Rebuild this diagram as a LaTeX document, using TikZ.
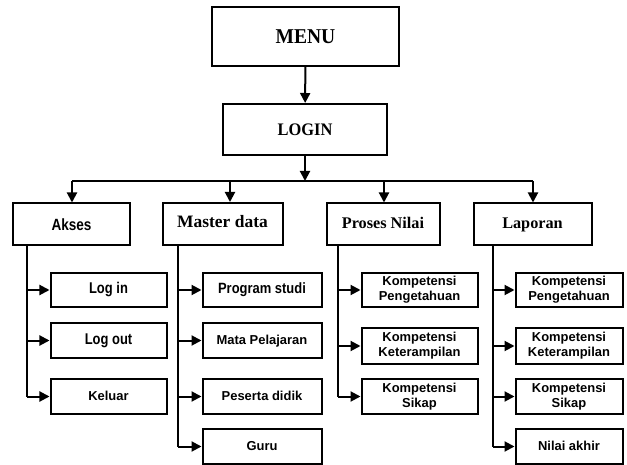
\documentclass[tikz,border=0pt]{standalone}
\usepackage{fontspec}
\usepackage{graphicx}
\setmainfont{Liberation Serif}
\setsansfont{Liberation Sans}
\usetikzlibrary{arrows.meta}

\tikzset{
  box/.style={draw, line width=2bp, inner sep=0pt, align=center},
  headbox/.style={box, text height=11bp, text depth=3.5bp,
                  font=\bfseries\fontsize{16.3}{18}\selectfont},
  itembox/.style={box, font=\sffamily\bfseries\fontsize{13}{15}\selectfont},
  oneline/.style={text height=10bp, text depth=3bp},
  link/.style={line width=2bp},
  arrow/.style={link, -{Triangle[length=10bp,width=10bp]}},
}

\begin{document}
\begin{tikzpicture}[x=1bp,y=-1bp]
\useasboundingbox (0,0) rectangle (627,465);

% top of the menu tree
\node[box, minimum width=187bp, minimum height=59bp,
      font=\bfseries\fontsize{19.6}{22}\selectfont] (menu) at (305.5,36.5)
      {\scalebox{1}[1.08]{MENU}};
\node[box, minimum width=164bp, minimum height=51bp,
      font=\bfseries\fontsize{16.5}{19}\selectfont] (login) at (305,129.5)
      {\scalebox{1}[1.07]{LOGIN}};

% main sections
\node[box, minimum width=116bp, minimum height=42bp,
      font=\sffamily\bfseries\fontsize{13.6}{16}\selectfont] (akses) at (71.5,224.5)
      {\scalebox{1}[1.2]{Akses}};
\node[headbox, minimum width=120bp, minimum height=42bp,
      font=\bfseries\fontsize{17.5}{20}\selectfont] (master) at (222.5,224)
      {Master data};
\node[headbox, minimum width=113bp, minimum height=42bp] (proses) at (383,224.5) {Proses Nilai};
\node[headbox, minimum width=118bp, minimum height=42bp] (laporan) at (532.5,224.5) {Laporan};

% Akses items
\node[itembox, minimum width=116bp, minimum height=34bp] (alogin) at (108.5,290)
      {\scalebox{1}[1.2]{Log in}};
\node[itembox, minimum width=116bp, minimum height=35bp] (alogout) at (108.5,340.5)
      {\scalebox{1}[1.2]{Log out}};
\node[itembox, oneline, minimum width=116bp, minimum height=35bp] (akeluar) at (108.5,396.5) {Keluar};

% Master data items
\node[itembox, minimum width=119bp, minimum height=34bp] (mprodi) at (262,290)
      {\scalebox{1}[1.15]{Program studi}};
\node[itembox, oneline, minimum width=119bp, minimum height=35bp] (mmapel) at (262,340.5) {Mata Pelajaran};
\node[itembox, oneline, minimum width=119bp, minimum height=35bp] (mpeserta) at (262,396.5) {Peserta didik};
\node[itembox, oneline, minimum width=119bp, minimum height=35bp] (mguru) at (262,446.5) {Guru};

% Proses Nilai items
\node[itembox, minimum width=116bp, minimum height=34bp] (pkp) at (419.5,290) {Kompetensi\\Pengetahuan};
\node[itembox, minimum width=116bp, minimum height=36bp] (pkk) at (419.5,346) {Kompetensi\\Keterampilan};
\node[itembox, minimum width=116bp, minimum height=35bp] (pks) at (419.5,396.5) {Kompetensi\\Sikap};

% Laporan items
\node[itembox, minimum width=107bp, minimum height=34bp] (lkp) at (569,290) {Kompetensi\\Pengetahuan};
\node[itembox, minimum width=107bp, minimum height=36bp] (lkk) at (569,346) {Kompetensi\\Keterampilan};
\node[itembox, minimum width=107bp, minimum height=35bp] (lks) at (569,396.5) {Kompetensi\\Sikap};
\node[itembox, oneline, minimum width=107bp, minimum height=35bp] (lna) at (569,446.5) {Nilai akhir};

% distribution bus and trunk lines
\coordinate (bus) at (305,181);
\coordinate (busA) at (72,181);
\coordinate (busM) at (230,181);
\coordinate (busP) at (384,181);
\coordinate (busL) at (533,181);
\coordinate (ta) at (27,0);
\coordinate (tm) at (178,0);
\coordinate (tp) at (338,0);
\coordinate (tl) at (493,0);

\draw[arrow] (menu) -- (login);
\draw[arrow] (login) -- (bus);
\draw[link] (busA) -- (busL);
\draw[arrow] (busA) -- (busA |- akses.north);
\draw[arrow] (busM) -- (busM |- master.north);
\draw[arrow] (busP) -- (busP |- proses.north);
\draw[arrow] (busL) -- (busL |- laporan.north);

\draw[link] (ta |- akses.south) -- (ta |- akeluar.west);
\foreach \n in {alogin,alogout,akeluar} \draw[arrow] (ta |- \n.west) -- (\n.west);

\draw[link] (tm |- master.south) -- (tm |- mguru.west);
\foreach \n in {mprodi,mmapel,mpeserta,mguru} \draw[arrow] (tm |- \n.west) -- (\n.west);

\draw[link] (tp |- proses.south) -- (tp |- pks.west);
\foreach \n in {pkp,pkk,pks} \draw[arrow] (tp |- \n.west) -- (\n.west);

\draw[link] (tl |- laporan.south) -- (tl |- lna.west);
\foreach \n in {lkp,lkk,lks,lna} \draw[arrow] (tl |- \n.west) -- (\n.west);
\end{tikzpicture}
\end{document}
